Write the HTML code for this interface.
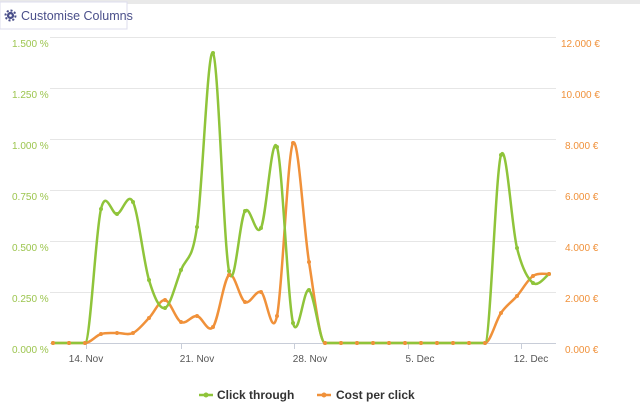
<!DOCTYPE html>
<html><head><meta charset="utf-8"><style>
body{margin:0;width:640px;height:404px;background:#fff;overflow:hidden;font-family:"Liberation Sans",sans-serif}
</style></head><body>
<svg width="640" height="404" xmlns="http://www.w3.org/2000/svg" style="position:absolute;left:0;top:0">
<rect x="0" y="0" width="640" height="4" fill="#e9e9e9"/>
<rect x="0" y="2" width="127" height="27" fill="#fff" stroke="#dde" stroke-width="1"/>
<g fill="#4a4f8a"><circle cx="10.5" cy="15.5" r="3.6"/><circle cx="10.5" cy="15.5" r="5" fill="none" stroke="#4a4f8a" stroke-width="2" stroke-dasharray="2 1.9"/></g>
<circle cx="10.5" cy="15.5" r="1.3" fill="#fff"/>
<text x="21" y="20" font-size="12.5" fill="#4a4f8a">Customise Columns</text>
<g stroke="#e6e6e6" stroke-width="1">
<line x1="50" x2="556" y1="37.5" y2="37.5"/><line x1="50" x2="556" y1="88.5" y2="88.5"/>
<line x1="50" x2="556" y1="139.5" y2="139.5"/><line x1="50" x2="556" y1="190.5" y2="190.5"/>
<line x1="50" x2="556" y1="241.5" y2="241.5"/><line x1="50" x2="556" y1="292.5" y2="292.5"/>
</g>
<line x1="50" x2="556" y1="343.5" y2="343.5" stroke="#c8cdd8"/>
<g stroke="#c8cdd8"><line x1="86.5" x2="86.5" y1="344" y2="349"/><line x1="181.5" x2="181.5" y1="344" y2="349"/><line x1="294.5" x2="294.5" y1="344" y2="349"/><line x1="408.5" x2="408.5" y1="344" y2="349"/><line x1="521.5" x2="521.5" y1="344" y2="349"/></g>
<g font-size="10" fill="#9cc54e">
<text x="12" y="47">1.500 %</text><text x="12" y="98">1.250 %</text><text x="12" y="149">1.000 %</text><text x="12" y="200">0.750 %</text><text x="12" y="251">0.500 %</text><text x="12" y="302">0.250 %</text><text x="12" y="353">0.000 %</text>
</g>
<g font-size="10" fill="#f0913a">
<text x="561" y="47">12.000 €</text><text x="561" y="98">10.000 €</text><text x="565" y="149">8.000 €</text><text x="565" y="200">6.000 €</text><text x="565" y="251">4.000 €</text><text x="565" y="302">2.000 €</text><text x="565" y="353">0.000 €</text>
</g>
<g font-size="10" fill="#555" text-anchor="middle">
<text x="86" y="362">14. Nov</text><text x="197" y="362">21. Nov</text><text x="310" y="362">28. Nov</text><text x="420" y="362">5. Dec</text><text x="531" y="362">12. Dec</text>
</g>
<path id="o" fill="none" stroke="#f0913a" stroke-width="2.5"/>
<path id="g" fill="none" stroke="#8fc43a" stroke-width="2.5"/>
<g id="pts"></g>
<line x1="199" x2="213" y1="395" y2="395" stroke="#8fc43a" stroke-width="2.5"/><circle cx="206" cy="395" r="2.5" fill="#8fc43a"/>
<text x="217" y="399" font-size="12" font-weight="bold" fill="#333">Click through</text>
<line x1="317" x2="331" y1="395" y2="395" stroke="#f0913a" stroke-width="2.5"/><circle cx="324" cy="395" r="2.5" fill="#f0913a"/>
<text x="336" y="399" font-size="12" font-weight="bold" fill="#333">Cost per click</text>
</svg>
<script>
var B=343;
var G=[B,B,B,209,214,202,280,308,270,227,53,271,211,228,147,323,290,B];
var O=[B,B,B,334,333,333,318,300,322,316,327,275,302,292,316,143,262,B];
while(G.length<28){G.push(B);O.push(B);}
G.push(155,248,283,274);O.push(313,296,276,274);
function c(y){return Math.min(y,B);}
function path(a){var p=a.map(function(y,i){return [53+16*i,y]});var d="M"+p[0][0]+","+p[0][1];
for(var i=0;i<p.length-1;i++){var p0=p[i-1]||p[i],p1=p[i],p2=p[i+1],p3=p[i+2]||p2;var t=6;
var y1=p1[1]+(p2[1]-p0[1])/t,y2=p2[1]-(p3[1]-p1[1])/t;
if(p1[1]==B)y1=B; if(p2[1]==B)y2=B;
d+=" C"+(p1[0]+(p2[0]-p0[0])/t)+","+c(y1)+" "+(p2[0]-(p3[0]-p1[0])/t)+","+c(y2)+" "+p2[0]+","+p2[1];}return d;}
document.getElementById('g').setAttribute('d',path(G));
document.getElementById('o').setAttribute('d',path(O));
var s="";G.forEach(function(y,i){s+='<circle cx="'+(53+16*i)+'" cy="'+y+'" r="2" fill="#8fc43a"/>';});
O.forEach(function(y,i){s+='<circle cx="'+(53+16*i)+'" cy="'+y+'" r="2" fill="#f0913a"/>';});
document.getElementById('pts').innerHTML=s;
</script>
</body></html>
